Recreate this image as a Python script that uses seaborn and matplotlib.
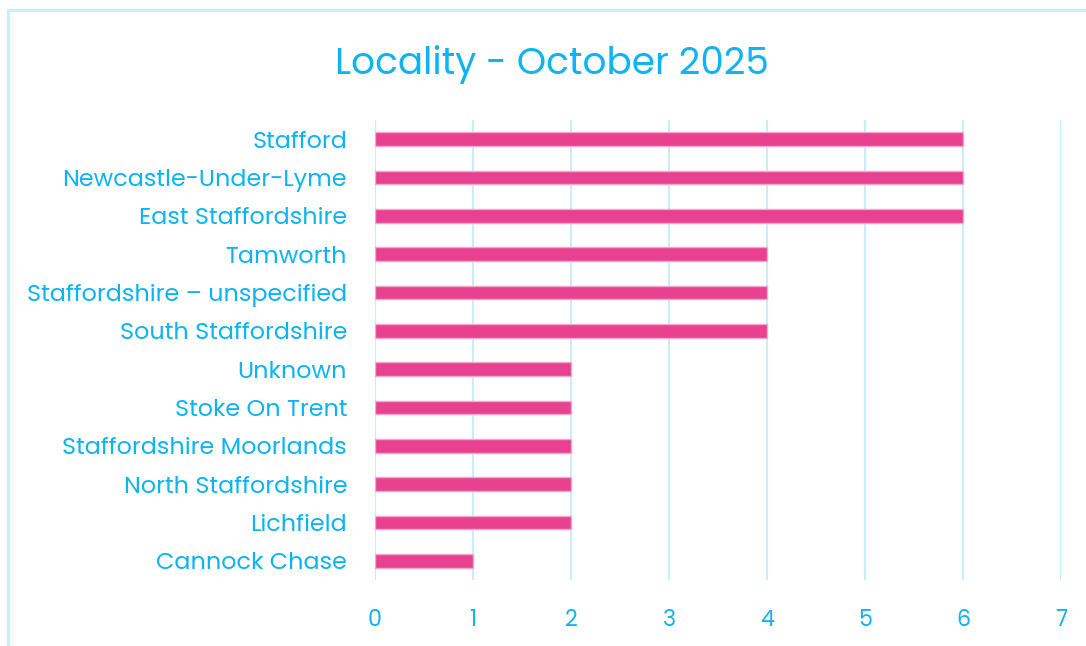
import matplotlib
matplotlib.use('Agg')
import matplotlib.pyplot as plt
import seaborn as sns
import pandas as pd
from matplotlib.patches import Rectangle

localities = [
    'Stafford',
    'Newcastle-Under-Lyme',
    'East Staffordshire',
    'Tamworth',
    'Staffordshire \u2013 unspecified',
    'South Staffordshire',
    'Unknown',
    'Stoke On Trent',
    'Staffordshire Moorlands',
    'North Staffordshire',
    'Lichfield',
    'Cannock Chase',
]
counts = [6, 6, 6, 4, 4, 4, 2, 2, 2, 2, 2, 1]
x_ticks = [0, 1, 2, 3, 4, 5, 6, 7]

TEXT = '#0DB4F3'
BAR = '#E8418F'
GRID = '#C8EEFC'

sns.set_style('white')
plt.rcParams['font.family'] = ['Poppins', 'Inter', 'DejaVu Sans']

df = pd.DataFrame({'locality': localities, 'count': counts})

fig = plt.figure(figsize=(10.86, 6.46), dpi=100)
ax = fig.add_axes([375 / 1086, 1 - 580 / 646, (1061 - 375) / 1086, 460 / 646])

sns.barplot(
    data=df,
    x='count',
    y='locality',
    color=BAR,
    width=0.35,
    edgecolor='#F4A6CB',
    linewidth=1,
    saturation=1,
    ax=ax,
    zorder=3,
)

ax.set_xlim(0, 7)
ax.set_ylim(11.5, -0.5)
ax.set_xticks(x_ticks)
ax.xaxis.grid(True, color=GRID, linewidth=1.5, zorder=0)
ax.set_axisbelow(True)
ax.set_xlabel('')
ax.set_ylabel('')
for s in ax.spines.values():
    s.set_visible(False)
ax.tick_params(axis='x', length=0, pad=21, labelsize=16, labelcolor=TEXT)
ax.tick_params(axis='y', length=0, pad=20, labelsize=17.2, labelcolor=TEXT)

fig.text(552 / 1086, 1 - 65 / 646, 'Locality - October 2025', ha='center', va='center',
         fontsize=26.9, color=TEXT)

# outer frame, running off the right and bottom edges
fig.add_artist(Rectangle((8 / 1086, -0.1), 1.2, 1 - 10 / 646 + 0.1, transform=fig.transFigure,
                         fill=False, edgecolor=GRID, linewidth=2))

fig.savefig('out.png', dpi=100)
